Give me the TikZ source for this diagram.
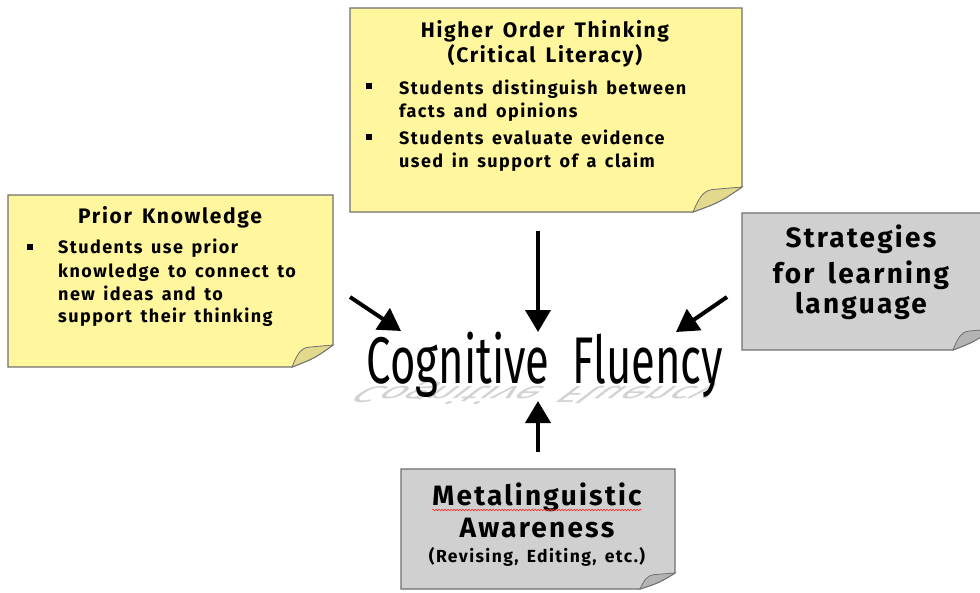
\documentclass[tikz,border=0pt]{standalone}
\usepackage{fontspec}
\setmainfont{Fira Sans}
\newfontfamily\notefont{Fira Sans}[LetterSpace=8,WordSpace=1.5]
\usetikzlibrary{arrows.meta,decorations.pathmorphing}
\definecolor{noteyellow}{HTML}{FFF69E}
\definecolor{flapyellow}{HTML}{E2D98C}
\definecolor{notegray}{HTML}{D0D0D0}
\definecolor{flapgray}{HTML}{B4B4B4}
\definecolor{edgegray}{HTML}{707070}
% x1 y1 x2 y2 cx cy fill flap
\newcommand\stickynote[8]{%
  \filldraw[draw=edgegray, line width=1.2pt, fill=#7]
    (#1,#2) -- (#3,#2) -- (#3,#6) .. controls ({#3-0.45*(#3-#5)},{#6+0.6*(#4-#6)}) .. (#5,#4) -- (#1,#4) -- cycle;
  \filldraw[draw=edgegray, line width=0.8pt, fill=#8]
    (#5,#4) .. controls ({#5+0.12*(#3-#5)},{#4-0.55*(#4-#6)}) and ({#5+0.2*(#3-#5)},{#6+0.15*(#4-#6)}) .. ({#5+0.4*(#3-#5)},{#6+0.1*(#4-#6)})
    -- (#3,#6) .. controls ({#3-0.45*(#3-#5)},{#6+0.6*(#4-#6)}) .. (#5,#4) -- cycle;
}
\tikzset{
  arr/.style={line width=4pt, -{Triangle[length=22pt,width=25pt]}},
  title/.style={anchor=base, font=\notefont\bfseries\fontsize{21}{21}\selectfont, inner sep=0pt},
  body/.style={anchor=base west, font=\notefont\bfseries\fontsize{18}{18}\selectfont, inner sep=0pt},
  big/.style={anchor=base, font=\notefont\bfseries\fontsize{28}{28}\selectfont, inner sep=0pt},
  bullet/.style={fill=black, minimum size=6pt, inner sep=0pt}
}
\begin{document}
\begin{tikzpicture}[x=1pt,y=-1pt]
\useasboundingbox (0,0) rectangle (980,592);
\clip (0,0) rectangle (980,592);
\fill[white] (0,0) rectangle (980,592);

% notes
\stickynote{350}{8}{742}{212}{693}{187}{noteyellow}{flapyellow}
\stickynote{8}{195}{333}{367}{292}{345}{noteyellow}{flapyellow}
\stickynote{742}{213}{992}{350}{953}{329}{notegray}{flapgray}
\stickynote{401}{469}{675}{589}{640}{573}{notegray}{flapgray}

% top note
\node[title] (hot1) at (545,37) {Higher Order Thinking};
\node[title] (hot2) at (545,62) {(Critical Literacy)};
\node[bullet] (b1) at (369,86) {};
\node[body] (t1) at (399,94) {Students distinguish between};
\node[body] (t2) at (399,117) {facts and opinions};
\node[bullet] (b2) at (369,137) {};
\node[body] (t3) at (399,144) {Students evaluate evidence};
\node[body] (t4) at (399,167) {used in support of a claim};

% left note
\node[title] (pk) at (170,223) {Prior Knowledge};
\node[bullet] (b3) at (30,247) {};
\node[body] (p1) at (58,253) {Students use prior};
\node[body] (p2) at (58,277) {knowledge to connect to};
\node[body] (p3) at (58,300) {new ideas and to};
\node[body] (p4) at (58,322) {support their thinking};

% right note
\node[big] (s1) at (861,247) {Strategies};
\node[big] (s2) at (861,283) {for learning};
\node[big] (s3) at (861,313) {language};

% bottom note
\node[big] (m1) at (537,505) {Metalinguistic};
\node[big] (m2) at (537,537) {Awareness};
\node[anchor=base, font=\notefont\bfseries\fontsize{17.5}{17.5}\selectfont, inner sep=0pt] (m3) at (537,562) {(Revising, Editing, etc.)};
\draw[red!80, line width=0.6pt, decorate, decoration={snake, amplitude=0.8pt, segment length=3pt}]
  (m1.base west) ++(0,5) coordinate (wl) -- (m1.base east |- wl);

% centre
\node[anchor=base, inner sep=0pt, text=gray!35, xslant=1.3, transform shape] (cfr) at (545,386)
  {\scalebox{0.66}[-0.35]{\fontsize{66}{66}\selectfont Cognitive\ \ Fluency}};
\node[anchor=base, inner sep=0pt] (cf) at (545,383)
  {\scalebox{0.66}[1]{\fontsize{66}{66}\selectfont Cognitive\ \ Fluency}};

% arrows
\coordinate (aT) at (538,231);  \coordinate (hT) at (538,332);
\coordinate (aL) at (350,297);  \coordinate (hL) at (401,331);
\coordinate (aR) at (727,297);  \coordinate (hR) at (676,332);
\coordinate (aB) at (538,452);  \coordinate (hB) at (538,401);
\draw[arr] (aT) -- (hT);
\draw[arr] (aL) -- (hL);
\draw[arr] (aR) -- (hR);
\draw[arr] (aB) -- (hB);
\end{tikzpicture}
\end{document}
